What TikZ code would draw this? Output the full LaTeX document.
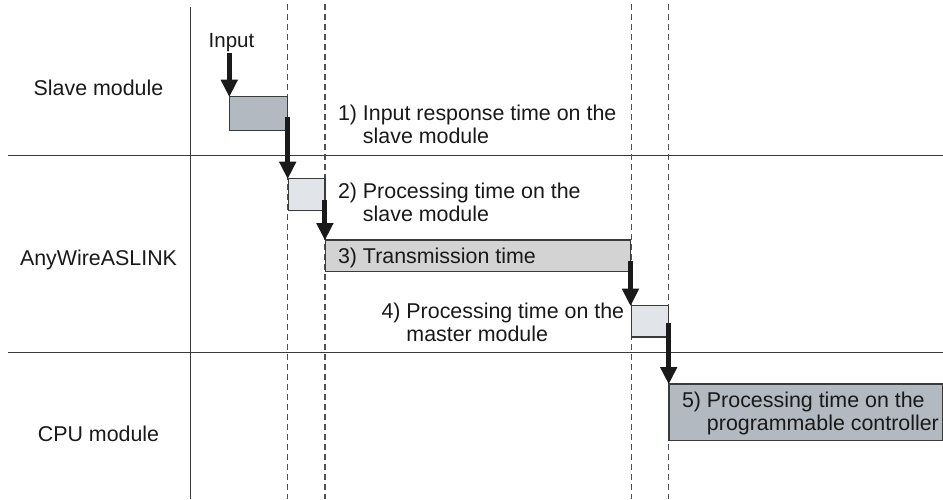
\documentclass[tikz,border=0pt]{standalone}
\usepackage{fontspec}
\setmainfont{Liberation Sans}
\usetikzlibrary{arrows.meta,calc}
\definecolor{bdark}{HTML}{B3B9C0}
\definecolor{blight}{HTML}{E1E4E8}
\definecolor{bgray}{HTML}{D3D3D3}
\definecolor{linec}{HTML}{3A3A3A}
\definecolor{dashc}{HTML}{505050}
\definecolor{arrc}{HTML}{1A1A1A}
\begin{document}
\begin{tikzpicture}[x=1pt,y=-1pt,
  lab/.style={font=\fontsize{21.4}{23.5}\selectfont, inner sep=0pt, outer sep=0pt, anchor=base west, text=black!90},
  rowlab/.style={font=\fontsize{21.4}{23.5}\selectfont, inner sep=0pt, anchor=base, text=black!90},
  tbox/.style={draw=linec, line width=1.3pt, inner sep=0pt, outer sep=0pt, anchor=north west},
  divider/.style={draw=linec, line width=1.2pt},
  dashline/.style={draw=dashc, line width=1.2pt, dash pattern=on 6pt off 4pt},
  bigarrow/.style={draw=arrc, line width=5pt, -{Triangle[width=17.5pt,length=17pt,line width=0pt]}}
]
\useasboundingbox (0,0) rectangle (943,499);
% grid lines
\coordinate (vt) at (190.3,7);
\coordinate (vb) at (190.3,499);
\draw[divider] (vt) -- (vb);
\coordinate (h1l) at (8,155.7);
\coordinate (h1r) at (943,155.7);
\coordinate (h2l) at (8,352.3);
\coordinate (h2r) at (943,352.3);
\draw[divider] (h1l) -- (h1r);
\draw[divider] (h2l) -- (h2r);
% dashed time lines
\foreach \x/\n in {287.7/d1, 324.9/d2, 631.3/d3, 668.8/d4} {
  \coordinate (\n t) at (\x,4);
  \coordinate (\n b) at (\x,499);
  \draw[dashline] (\n t) -- (\n b);
}
% row labels
\node[rowlab] (rslave) at (98.5,95.7) {Slave module};
\node[rowlab] (rlink) at (98.5,265) {AnyWireASLINK};
\node[rowlab] (rcpu) at (98.5,441.7) {CPU module};
% boxes
\node[tbox, fill=bdark, minimum width=58.4pt, minimum height=33.6pt] (b1) at (229.3,96.7) {};
\node[tbox, fill=blight, minimum width=36.4pt, minimum height=31.6pt] (b2) at (288.5,178.7) {};
\node[tbox, fill=bgray, minimum width=305pt, minimum height=31.7pt] (b3) at (325.5,240) {};
\node[tbox, fill=blight, minimum width=37.2pt, minimum height=31.3pt] (b4) at (631.5,305.7) {};
\node[tbox, fill=bdark, minimum width=273.5pt, minimum height=56.5pt] (b5) at (669,384) {};
% arrows
\node[font=\fontsize{20.5}{23}\selectfont, inner sep=0pt, anchor=base, text=black!90] (input) at (231.5,47.3) {Input};
\coordinate (in) at ($(b1.north west)+(0,-43.7)$);
\draw[bigarrow] (in) -- (b1.north west);
\coordinate (a1) at ($(b1.north east)+(0,20)$);
\draw[bigarrow] (a1) -- (a1 |- b2.north);
\coordinate (a2) at ($(b2.north east)+(0,21.3)$);
\draw[bigarrow] (a2) -- (a2 |- b3.north);
\coordinate (a3) at ($(b3.north east)+(0,20.7)$);
\draw[bigarrow] (a3) -- (a3 |- b4.north);
\coordinate (a4) at ($(b4.north east)+(0,17)$);
\draw[bigarrow] (a4) -- (a4 |- b5.north);
% step labels
\node[lab] (t1a) at (338,120) {1) Input response time on the};
\node[lab] (t1b) at ($(t1a.base west)+(0,23.3)$) {\phantom{1)\ }slave module};
\node[lab] (t2a) at (338,198) {2) Processing time on the};
\node[lab] (t2b) at ($(t2a.base west)+(0,23.3)$) {\phantom{2)\ }slave module};
\node[lab] (t3) at (338,263.3) {3) Transmission time};
\node[lab] (t4a) at (381.5,318) {4) Processing time on the};
\node[lab] (t4b) at ($(t4a.base west)+(0,23.3)$) {\phantom{4)\ }master module};
\node[lab] (t5a) at (682,407.7) {5) Processing time on the};
\node[lab] (t5b) at ($(t5a.base west)+(0,22.3)$) {\phantom{5)\ }programmable controller};
\end{tikzpicture}
\end{document}
